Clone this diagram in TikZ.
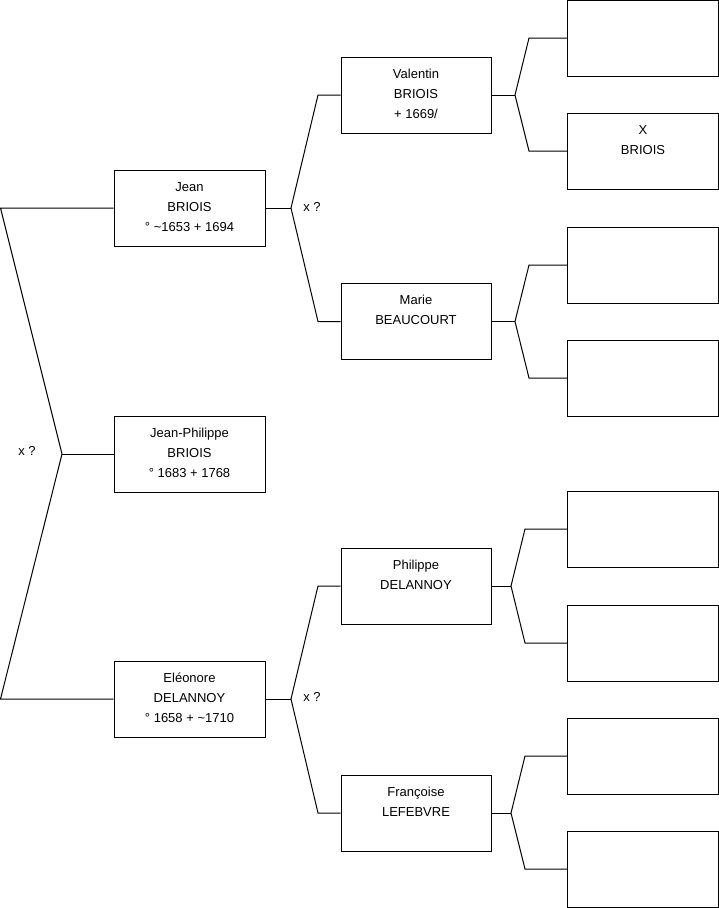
\documentclass[tikz,border=0pt]{standalone}
\usepackage{fontspec}
\setmainfont{Liberation Sans}
\newcommand\ptext[2][150pt]{\parbox[c][76pt][t]{#1}{\centering\rule{0pt}{21.3pt}#2}}
\begin{document}
\begin{tikzpicture}[x=1pt,y=-1pt,
  font=\fontsize{13}{20}\selectfont,
  person/.style={draw=black, line width=1pt, inner sep=0pt, minimum height=76pt},
  wideA/.style={person, minimum width=151pt},
  wideB/.style={person, minimum width=150pt},
  wideC/.style={person, minimum width=151pt},
  link/.style={draw=black, line width=1pt},
  marr/.style={inner sep=0pt}]
\useasboundingbox (0,0) rectangle (719,908);
% generation 1
\node[wideA] (jean) at (189.5,208) {\ptext{Jean\\BRIOIS\\° \textasciitilde1653 + 1694}};
\node[wideA] (jp) at (189.5,454) {\ptext{Jean-Philippe\\BRIOIS\\° 1683 + 1768}};
\node[wideA] (eleo) at (189.5,699) {\ptext{Eléonore\\DELANNOY\\° 1658 + \textasciitilde1710}};
% generation 2
\node[wideB] (val) at (416,95) {\ptext{Valentin\\BRIOIS\\+ 1669/}};
\node[wideB] (marie) at (416,321.5) {\ptext{Marie\\BEAUCOURT}};
\node[wideB] (phil) at (416,586) {\ptext{Philippe\\DELANNOY}};
\node[wideB] (fran) at (416,813) {\ptext{Françoise\\LEFEBVRE}};
% generation 3
\node[wideC] (r1) at (643,38) {\ptext{}};
\node[wideC] (r2) at (643,151) {\ptext{X\\BRIOIS}};
\node[wideC] (r3) at (643,265) {\ptext{}};
\node[wideC] (r4) at (643,378) {\ptext{}};
\node[wideC] (r5) at (643,529) {\ptext{}};
\node[wideC] (r6) at (643,643) {\ptext{}};
\node[wideC] (r7) at (643,756) {\ptext{}};
\node[wideC] (r8) at (643,869) {\ptext{}};
% junction points
\coordinate (a1) at (0.5,208);
\coordinate (a2) at (0.5,699);
\coordinate (v0) at (62,454);
\coordinate (v1) at (291,208);
\coordinate (v1a) at (318,95);
\coordinate (v1b) at (318,321.5);
\coordinate (v2) at (515,95);
\coordinate (v2a) at (529,38);
\coordinate (v2b) at (529,151);
\coordinate (v3) at (515,321.5);
\coordinate (v3a) at (529,265);
\coordinate (v3b) at (529,378);
\coordinate (v4) at (291,699);
\coordinate (v4a) at (318,586);
\coordinate (v4b) at (318,813);
\coordinate (v5) at (511,586);
\coordinate (v5a) at (525,529);
\coordinate (v5b) at (525,643);
\coordinate (v6) at (511,813);
\coordinate (v6a) at (525,756);
\coordinate (v6b) at (525,869);
% connectors
\draw[link] (jean.west) -- (a1) -- (v0) -- (a2) -- (eleo.west);
\draw[link] (v0) -- (jp.west);
\draw[link] (val.west) -- (v1a) -- (v1) -- (v1b) -- (marie.west);
\draw[link] (jean.east) -- (v1);
\draw[link] (r1.west) -- (v2a) -- (v2) -- (v2b) -- (r2.west);
\draw[link] (val.east) -- (v2);
\draw[link] (r3.west) -- (v3a) -- (v3) -- (v3b) -- (r4.west);
\draw[link] (marie.east) -- (v3);
\draw[link] (phil.west) -- (v4a) -- (v4) -- (v4b) -- (fran.west);
\draw[link] (eleo.east) -- (v4);
\draw[link] (r5.west) -- (v5a) -- (v5) -- (v5b) -- (r6.west);
\draw[link] (phil.east) -- (v5);
\draw[link] (r7.west) -- (v6a) -- (v6) -- (v6b) -- (r8.west);
\draw[link] (fran.east) -- (v6);
% marriage labels
\node[marr] (m0) at (27,451) {x ?};
\node[marr] (m1) at (312,207) {x ?};
\node[marr] (m2) at (312,697) {x ?};
\end{tikzpicture}
\end{document}
